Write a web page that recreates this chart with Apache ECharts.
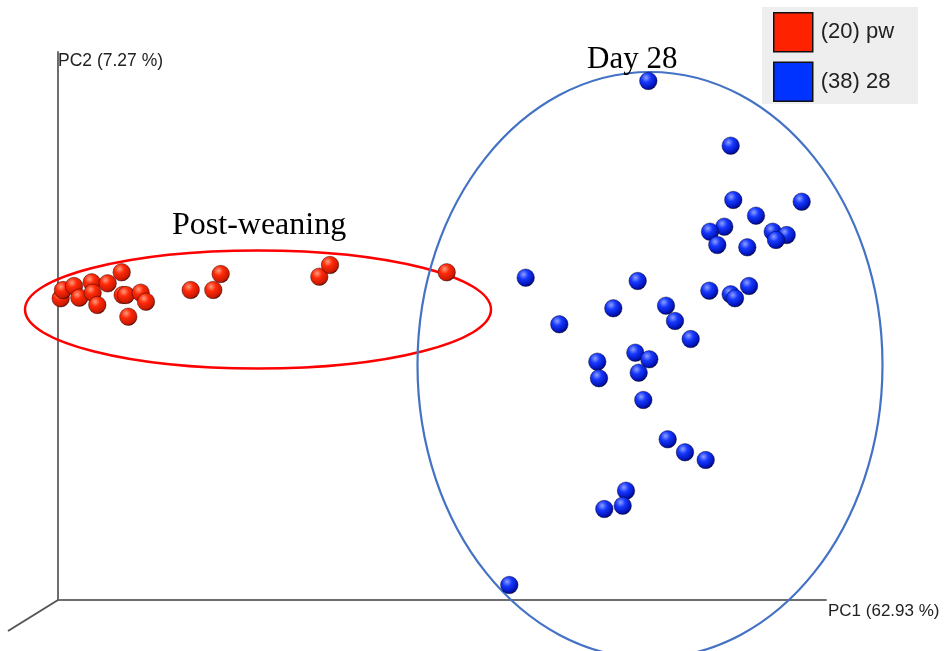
<!DOCTYPE html>
<html>
<head>
<meta charset="utf-8">
<script src="https://cdn.jsdelivr.net/npm/echarts@6/dist/echarts.min.js"></script>
<style>html,body{margin:0;padding:0;background:#fff}#c{width:945px;height:651px}</style>
</head>
<body>
<div id="c"></div>
<script>
// PC1 / PC2 coordinates (plot units)
var pwPC1 = [60.7, 63, 74, 79.3, 91.7, 92.7, 97.3, 107.7, 121.7, 122.7, 126, 140.7, 146, 128.3, 190.7, 213.3, 220.7, 319.3, 330, 446.7];
var pwPC2 = [298.3, 290, 286, 297.7, 282.3, 292.7, 305, 283.3, 272.3, 295, 295, 292.7, 301.7, 316.7, 290, 290, 274, 276.7, 265, 272.3];
var d28PC1 = [648.3, 730.7, 733.3, 801.7, 756, 724.3, 710, 717.3, 747.3, 772.7, 786.7, 776,
              525.7, 637.7, 709.3, 730.7, 735, 749, 613.3, 666, 675, 559.3, 690.7,
              597.3, 599, 635.3, 649.3, 638.7, 643.3, 667.7, 685, 705.7, 626, 622.7, 604.3, 509.3];
var d28PC2 = [81, 145.7, 200, 201.7, 215.7, 226.7, 231.7, 245, 247.3, 231.7, 235, 240,
              277.7, 281, 290.7, 294.3, 298.3, 286, 308.3, 305.7, 321, 324.3, 339,
              361.7, 378.3, 352.7, 359.3, 372.7, 400, 439.3, 452.3, 460, 490.7, 505.7, 509, 585];
var seriesNames = ['(20) pw', '(38) 28'];
var axisNames = ['PC1 (62.93 %)', 'PC2 (7.27 %)'];
// ellipse [centerPC1, centerPC2, radiusPC1, radiusPC2]
var ellipsePW = [258, 309.5, 233, 59];
var ellipseD28 = [650, 365, 232.5, 293];
var groupLabels = ['Post-weaning', 'Day 28'];

function zip(a, b) { return a.map(function (v, i) { return [v, b[i]]; }); }
function sphere(light, mid, dark) {
  return { type: 'radial', x: 0.38, y: 0.32, r: 0.75,
    colorStops: [{ offset: 0, color: light }, { offset: 0.35, color: mid }, { offset: 0.8, color: dark }, { offset: 1, color: '#100000' }] };
}
var SANS = 'Liberation Sans, Arial, sans-serif';
var SERIF = 'Liberation Serif, Times New Roman, serif';
var chart = echarts.init(document.getElementById('c'));
chart.setOption({
  animation: false,
  grid: { left: 58, top: 52, right: 119, bottom: 51 },
  xAxis: { type: 'value', min: 58, max: 826, axisLine: { show: true, onZero: false, lineStyle: { color: '#6e6e6e', width: 2 } },
    axisTick: { show: false }, axisLabel: { show: false }, splitLine: { show: false } },
  yAxis: { type: 'value', min: 52, max: 600, inverse: true, axisLine: { show: true, onZero: false, lineStyle: { color: '#6e6e6e', width: 2 } },
    axisTick: { show: false }, axisLabel: { show: false }, splitLine: { show: false } },
  legend: {
    orient: 'vertical', left: 762, top: 7, backgroundColor: '#eeeeee', padding: [5, 24, 2, 11],
    itemWidth: 39, itemHeight: 39, itemGap: 9, icon: 'rect',
    textStyle: { fontFamily: SANS, fontSize: 22, color: '#222', padding: [3, 0, 0, 3] },
    data: [
      { name: seriesNames[0], itemStyle: { color: '#ff2200', borderColor: '#111', borderWidth: 1.5 } },
      { name: seriesNames[1], itemStyle: { color: '#0033ff', borderColor: '#111', borderWidth: 1.5 } }
    ]
  },
  series: [
    { name: seriesNames[0], type: 'scatter', symbolSize: 17.5, data: zip(pwPC1, pwPC2), z: 5,
      itemStyle: { color: sphere('#ff9c80', '#ff2a08', '#c81800'), opacity: 1, borderColor: 'rgba(40,0,0,0.55)', borderWidth: 0.8 } },
    { name: seriesNames[1], type: 'scatter', symbolSize: 17.5, data: zip(d28PC1, d28PC2), z: 5,
      itemStyle: { color: sphere('#8fa0ff', '#1638ff', '#0010b0'), opacity: 1, borderColor: 'rgba(0,0,40,0.55)', borderWidth: 0.8 } }
  ]
});

function ell(e, color, w) {
  var c = chart.convertToPixel({ gridIndex: 0 }, [e[0], e[1]]);
  var p = chart.convertToPixel({ gridIndex: 0 }, [e[0] + e[2], e[1] + e[3]]);
  return { type: 'ellipse', z: 1, silent: true,
    shape: { cx: c[0], cy: c[1], rx: Math.abs(p[0] - c[0]), ry: Math.abs(p[1] - c[1]) },
    style: { fill: null, stroke: color, lineWidth: w } };
}
var o = chart.convertToPixel({ gridIndex: 0 }, [58, 600]);
chart.setOption({
  graphic: [
    ell(ellipsePW, '#ff0000', 2.5),
    ell(ellipseD28, '#4472c4', 2.2),
    { type: 'line', z: 10, shape: { x1: o[0], y1: o[1], x2: o[0] - 50, y2: o[1] + 31 }, style: { stroke: '#555', lineWidth: 2 } },
    { type: 'text', z: 11, left: 58, top: 52, style: { text: axisNames[1], fontFamily: SANS, fontSize: 17.5, fill: '#222' } },
    { type: 'text', z: 11, left: 828, top: 603, style: { text: axisNames[0], fontFamily: SANS, fontSize: 17, fill: '#222' } },
    { type: 'text', z: 11, left: 172, top: 210, style: { text: groupLabels[0], fontFamily: SERIF, fontSize: 32, fill: '#000' } },
    { type: 'text', z: 11, left: 587, top: 44, style: { text: groupLabels[1], fontFamily: SERIF, fontSize: 31, fill: '#000' } }
  ]
});
</script>
</body>
</html>
